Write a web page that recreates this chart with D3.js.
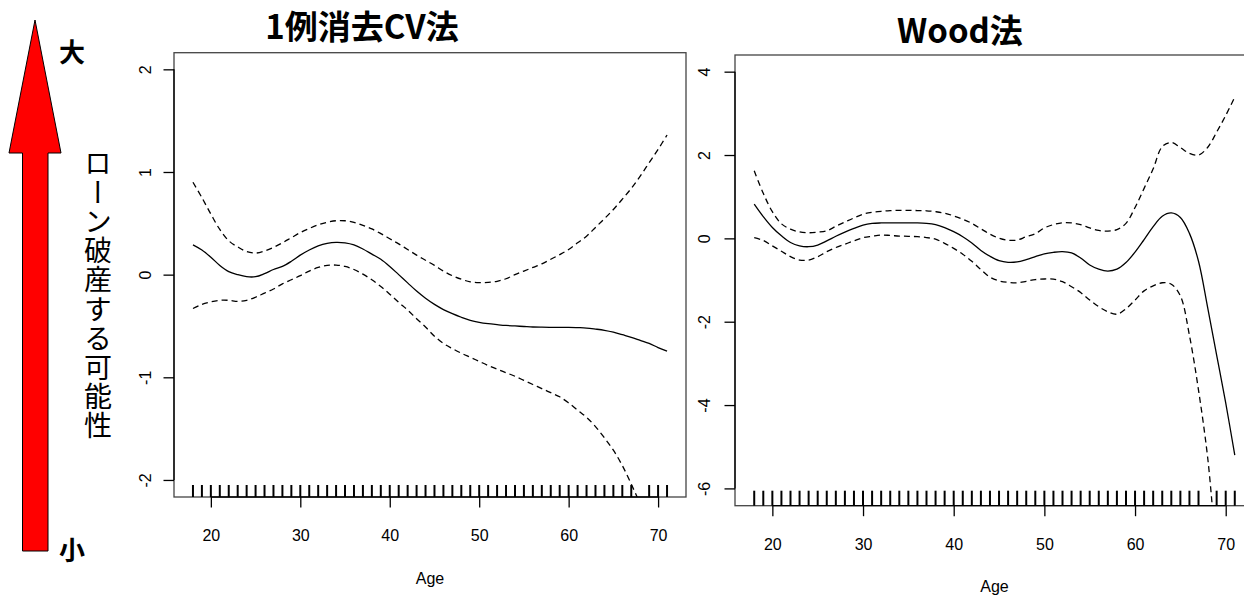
<!DOCTYPE html>
<html>
<head>
<meta charset="utf-8">
<script src="https://cdn.jsdelivr.net/npm/d3@7/dist/d3.min.js"></script>
<style>
body { margin: 0; background: #fff; }
text { font-family: "Liberation Sans", Arial, sans-serif; }
</style>
</head>
<body>
<div class="chart"></div>
<script>
// age grid the smooths are read at
var ages = [18,19,20,21,22,23,24,25,26,27,28,29,30,31,32,33,34,35,36,37,38,39,40,41,42,43,44,
	45,46,47,48,49,50,51,52,53,54,55,56,57,58,59,60,61,62,63,64,65,66,67,68,69,70,71];

// left panel: leave-one-out CV
var cvFit = [0.29,0.24,0.17,0.09,0.03,0.0,-0.02,-0.02,0.01,0.05,0.08,0.13,0.19,0.24,0.28,0.305,0.315,
	0.31,0.29,0.25,0.2,0.15,0.08,0.0,-0.08,-0.16,-0.23,-0.29,-0.34,-0.38,-0.415,-0.445,-0.465,-0.478,
	-0.487,-0.495,-0.5,-0.505,-0.51,-0.512,-0.513,-0.513,-0.513,-0.516,-0.52,-0.53,-0.542,-0.56,-0.585,
	-0.61,-0.64,-0.67,-0.71,-0.746];
var cvUpper = [0.9,0.75,0.59,0.44,0.33,0.27,0.225,0.21,0.23,0.265,0.31,0.36,0.41,0.45,0.485,0.51,0.525,
	0.525,0.51,0.48,0.445,0.4,0.35,0.3,0.245,0.19,0.14,0.09,0.035,-0.01,-0.045,-0.07,-0.078,-0.075,
	-0.065,-0.04,0.0,0.035,0.07,0.105,0.15,0.195,0.245,0.31,0.375,0.46,0.545,0.635,0.735,0.84,0.96,
	1.09,1.22,1.36];
var cvLower = [-0.33,-0.29,-0.265,-0.25,-0.25,-0.26,-0.25,-0.22,-0.18,-0.14,-0.09,-0.05,-0.01,0.035,
	0.07,0.09,0.093,0.08,0.05,0.005,-0.05,-0.115,-0.19,-0.27,-0.345,-0.43,-0.51,-0.6,-0.67,-0.72,-0.765,
	-0.805,-0.845,-0.885,-0.92,-0.955,-0.99,-1.03,-1.07,-1.11,-1.15,-1.19,-1.25,-1.32,-1.39,-1.48,-1.59,
	-1.71,-1.86,-2.04,-2.24,-2.5,-2.8,-3.1];

// right panel: Wood's method
var woodFit = [0.82,0.52,0.26,0.06,-0.1,-0.18,-0.2,-0.16,-0.06,0.05,0.15,0.24,0.32,0.36,0.37,0.37,0.37,
	0.37,0.37,0.36,0.33,0.26,0.16,0.04,-0.11,-0.29,-0.43,-0.535,-0.575,-0.565,-0.51,-0.44,-0.37,-0.335,
	-0.32,-0.35,-0.47,-0.64,-0.74,-0.785,-0.74,-0.58,-0.33,-0.03,0.28,0.53,0.61,0.5,0.12,-0.55,-1.65,
	-2.8,-3.95,-5.2];
var woodUpper = [1.62,1.08,0.64,0.35,0.22,0.155,0.135,0.15,0.18,0.29,0.39,0.49,0.58,0.625,0.65,0.665,
	0.672,0.672,0.668,0.662,0.64,0.605,0.54,0.46,0.36,0.23,0.1,0.005,-0.045,-0.04,0.04,0.11,0.25,0.33,
	0.375,0.37,0.33,0.25,0.19,0.175,0.21,0.36,0.74,1.2,1.67,2.2,2.3,2.18,2.04,2.0,2.18,2.55,2.95,3.39];
var woodLower = [0.015,-0.05,-0.18,-0.31,-0.44,-0.52,-0.52,-0.44,-0.32,-0.22,-0.14,-0.06,0.015,0.05,
	0.08,0.07,0.055,0.05,0.04,0.02,-0.02,-0.12,-0.24,-0.38,-0.55,-0.75,-0.93,-1.02,-1.055,-1.065,-1.03,
	-0.99,-0.975,-0.98,-1.04,-1.16,-1.3,-1.48,-1.64,-1.76,-1.82,-1.69,-1.48,-1.26,-1.14,-1.065,-1.1,
	-1.38,-2.33,-3.64,-5.24,-7.5,-9.0,-10.5];

// observed ages (rug)
var rugAges = [18,19,20,21,22,23,24,25,26,27,28,29,30,31,32,33,34,35,36,37,38,39,40,41,42,43,44,45,
	46,47,48,49,50,51,52,53,54,55,56,57,58,59,60,61,62,63,64,65,66,67,69,70,71];

var xTicks = [20, 30, 40, 50, 60, 70];
var cvTicks = [-2, -1, 0, 1, 2];
var woodTicks = [-6, -4, -2, 0, 2, 4];

var svg = d3.select(".chart").append("svg")
	.attr("width", 1244).attr("height", 601);

//the red arrow on the left
var arrow = [[35, 20], [9, 153], [22.5, 153], [22.5, 551], [48, 551], [48, 153], [61, 153]];
svg.append("polygon")
	.attr("points", arrow.map(function(p) {return p.join(",");}).join(" "))
	.attr("fill", "#ff0000").attr("stroke", "#000").attr("stroke-width", 1);

svg.append("text").text("大")
	.attr("x", 72).attr("y", 50)
	.attr("text-anchor", "middle").attr("dominant-baseline", "central")
	.style("font-family", "'Noto Sans CJK JP'").style("font-weight", "bold").style("font-size", "26px");
svg.append("text").text("小")
	.attr("x", 72).attr("y", 548)
	.attr("text-anchor", "middle").attr("dominant-baseline", "central")
	.style("font-family", "'Noto Sans CJK JP'").style("font-weight", "bold").style("font-size", "26px");

//vertical caption, written top to bottom
svg.append("text").text("ローン破産する可能性")
	.attr("x", 98).attr("y", 149)
	.style("writing-mode", "vertical-rl")
	.style("font-feature-settings", "'vert' 1")
	.style("letter-spacing", "1.2px")
	.style("font-family", "'Noto Sans CJK JP'").style("font-size", "28px");

function drawPanel(p) {
	var x = d3.scaleLinear().domain([15.88, 73.12]).range([p.left, p.right]);
	var y = d3.scaleLinear().domain(p.ydom).range([p.bottom, p.top]);
	var g = svg.append("g");

	g.append("clipPath").attr("id", p.id + "-clip")
		.append("rect")
		.attr("x", p.left).attr("y", p.top)
		.attr("width", p.right - p.left).attr("height", p.bottom - p.top);

	//plot frame
	g.append("rect")
		.attr("x", p.left).attr("y", p.top)
		.attr("width", p.right - p.left).attr("height", p.bottom - p.top)
		.attr("fill", "none").attr("stroke", "#444").attr("stroke-width", 1.3);

	var line = d3.line()
		.x(function(d, i) {return x(ages[i]);})
		.y(function(d) {return y(d);})
		.curve(d3.curveCatmullRom.alpha(0.5));

	var curves = g.append("g").attr("clip-path", "url(#" + p.id + "-clip)");
	curves.append("path").attr("d", line(p.fit))
		.attr("fill", "none").attr("stroke", "#000").attr("stroke-width", 1.3);
	[p.upper, p.lower].forEach(function(s) {
		curves.append("path").attr("d", line(s))
			.attr("fill", "none").attr("stroke", "#000").attr("stroke-width", 1.3)
			.attr("stroke-dasharray", "6,4");
	});

	//rug
	g.selectAll(".rug").data(rugAges).enter().append("line")
		.attr("x1", function(d) {return x(d);}).attr("x2", function(d) {return x(d);})
		.attr("y1", p.bottom).attr("y2", p.bottom - p.rug)
		.attr("stroke", "#000").attr("stroke-width", 2);

	//x axis
	var xAxis = d3.axisBottom(x).tickValues(xTicks).tickSize(10.5).tickPadding(22);
	var xg = g.append("g").attr("transform", "translate(0," + p.bottom + ")").call(xAxis);
	xg.select(".domain").remove();
	xg.append("line").attr("x1", x(20)).attr("x2", x(70)).attr("stroke", "#000");
	xg.selectAll("line").attr("stroke-width", 1.3);
	xg.selectAll("text").style("font-size", "16px").style("font-family", "'Liberation Sans', Arial, sans-serif").attr("fill", "#000");

	//y axis, labels rotated like R
	var yAxis = d3.axisLeft(y).tickValues(p.yticks).tickSize(10.5).tickFormat(d3.format("d"));
	var yg = g.append("g").attr("transform", "translate(" + p.left + ",0)").call(yAxis);
	yg.select(".domain").remove();
	yg.append("line")
		.attr("y1", y(p.yticks[0])).attr("y2", y(p.yticks[p.yticks.length - 1]))
		.attr("stroke", "#000");
	yg.selectAll("line").attr("stroke-width", 1.3);
	yg.selectAll("text")
		.attr("x", null).attr("dy", "0.35em")
		.attr("text-anchor", "middle")
		.attr("transform", "translate(" + (-p.labelOff) + ",0) rotate(-90)")
		.style("font-size", "16px").style("font-family", "'Liberation Sans', Arial, sans-serif")
		.attr("fill", "#000")
		.text(function(d) {return String(d);});

	g.append("text").text("Age")
		.attr("x", (p.left + p.right) / 2).attr("y", p.bottom + 81)
		.attr("text-anchor", "middle").attr("dominant-baseline", "central")
		.style("font-size", "16px");

	g.append("text").text(p.title)
		.attr("x", p.titleX).attr("y", p.titleY)
		.attr("text-anchor", "middle")
		.style("font-family", "'Noto Sans CJK JP'").style("font-weight", "bold").style("font-size", "33px");
}

drawPanel({id: "cv", left: 174, right: 686, top: 52.7, bottom: 497, ydom: [-2.166, 2.162],
	yticks: cvTicks, fit: cvFit, upper: cvUpper, lower: cvLower, rug: 12, labelOff: 29,
	title: "1例消去CV法", titleX: 362, titleY: 39});
drawPanel({id: "wood", left: 735, right: 1254, top: 55, bottom: 505.7, ydom: [-6.415, 4.40],
	yticks: woodTicks, fit: woodFit, upper: woodUpper, lower: woodLower, rug: 15, labelOff: 31,
	title: "Wood法", titleX: 960, titleY: 43});
</script>
</body>
</html>
